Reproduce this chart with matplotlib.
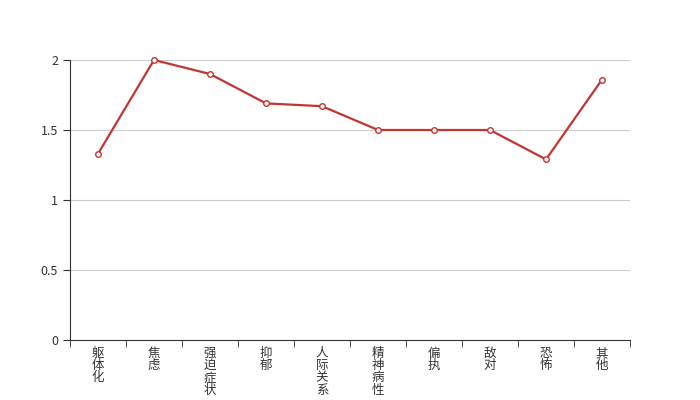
import matplotlib
matplotlib.use("Agg")
import matplotlib.pyplot as plt
import numpy as np

plt.rcParams['font.family'] = ['Noto Sans CJK SC', 'DejaVu Sans']

categories = ["躯体化", "焦虑", "强迫症状", "抑郁", "人际关系", "精神病性", "偏执", "敌对", "恐怖", "其他"]
values = [1.33, 2.0, 1.9, 1.69, 1.67, 1.5, 1.5, 1.5, 1.29, 1.86]
yticks = [0, 0.5, 1, 1.5, 2]

fig = plt.figure(figsize=(7, 4), dpi=100)
ax = fig.add_axes([0.1, 0.15, 0.8, 0.7])

x = np.arange(len(categories))
ax.plot(x, values, color="#c23531", lw=1.6, marker="o", ms=4,
        mfc="white", mec="#c23531", mew=1, zorder=3, clip_on=False)

ax.set_xlim(-0.5, len(categories) - 0.5)
ax.set_ylim(0, 2)
ax.set_yticks(yticks)
ax.set_yticklabels(["0", "0.5", "1", "1.5", "2"])
ax.grid(axis="y", color="#cccccc", lw=0.8)
ax.set_axisbelow(True)

ax.set_xticks(x)
ax.set_xticklabels(["\n".join(c) for c in categories], va="top", linespacing=0.92)
ax.set_xticks(np.arange(-0.5, len(categories)), minor=True)
ax.tick_params(axis="x", which="major", length=0, pad=5, labelsize=9, colors="#333333")
ax.tick_params(axis="x", which="minor", length=5, color="#333333")
ax.tick_params(axis="y", length=5, color="#333333", labelsize=9, labelcolor="#333333")

for s in ["top", "right"]:
    ax.spines[s].set_visible(False)
ax.spines["left"].set_color("#333333")
ax.spines["bottom"].set_color("#333333")

fig.savefig("out.png", dpi=100)
